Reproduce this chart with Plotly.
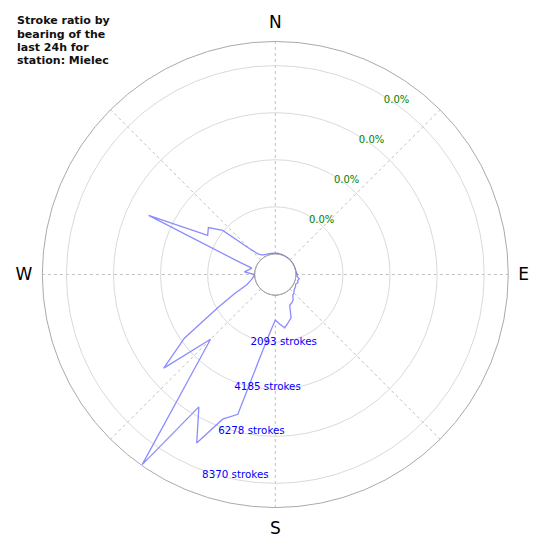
import plotly.graph_objects as go

# bearing bins (degrees, clockwise from north) and stroke counts per bin
bearings = list(range(0, 360, 5))
strokes = [
    40, 40, 30, 30, 20, 20, 15, 10, 10, 10, 5, 5,
    5, 5, 10, 10, 20, 30, 80, 60, 170, 120, 160, 90,
    130, 150, 180, 250, 300, 470, 550, 600, 1140, 1300, 1490, 1300,
    1110, 1640, 2690, 5520, 5930, 7350, 5880, 9400, 4900, 3160, 5560, 4020,
    2030, 1080, 450, 260, 130, 60, 10, 470, 290, 170, 990, 5300,
    2560, 2720, 2140, 720, 290, 150, 100, 80, 60, 50, 45, 40,
]

ring_values = [2093, 4185, 6278, 8370]
ring_labels = [f"{v} strokes" for v in ring_values]
ratio_labels = ["0.0%", "0.0%", "0.0%", "0.0%"]
compass_angles = [0, 45, 90, 135, 180, 225, 270, 315]
compass_text = ["N", "", "E", "", "S", "", "W", ""]
title_lines = ["Stroke ratio by", "bearing of the", "last 24h for", "station: Mielec"]
r_max = 9440

fig = go.Figure()

# stroke distribution, closed loop
fig.add_trace(go.Scatterpolar(
    r=strokes + strokes[:1],
    theta=bearings + bearings[:1],
    mode="lines",
    line=dict(color="#8c8cff", width=1.3),
    hoverinfo="skip",
))

# inner circle edge
fig.add_trace(go.Scatterpolar(
    r=[0] * 361,
    theta=list(range(361)),
    mode="lines",
    line=dict(color="#333333", width=0.9),
    hoverinfo="skip",
))

# ring labels (stroke counts)
label_pad = r_max * 0.024
fig.add_trace(go.Scatterpolar(
    r=[v + label_pad for v in ring_values],
    theta=[200] * len(ring_values),
    mode="text",
    text=ring_labels,
    textposition="middle right",
    textfont=dict(family="DejaVu Sans", size=10.3, color="#0000ff"),
    hoverinfo="skip",
))

# ratio labels
fig.add_trace(go.Scatterpolar(
    r=[v - label_pad * 0.8 for v in ring_values],
    theta=[32] * len(ring_values),
    mode="text",
    text=ratio_labels,
    textposition="middle right",
    textfont=dict(family="DejaVu Sans", size=10, color="#008000"),
    hoverinfo="skip",
))

# title, one annotation per line to keep the tight line spacing
annotations = []
for i, line in enumerate(title_lines):
    annotations.append(dict(
        text=f"<b>{line}</b>",
        xref="paper", yref="paper",
        x=0.0125, y=0.992 - i * 13.3 / 550,
        xanchor="left", yanchor="top",
        showarrow=False,
        font=dict(family="DejaVu Sans", size=11, color="#111111"),
    ))

fig.update_layout(
    width=550,
    height=550,
    margin=dict(l=0, r=0, t=0, b=0),
    paper_bgcolor="white",
    plot_bgcolor="white",
    showlegend=False,
    font=dict(family="DejaVu Sans", color="#000000"),
    polar=dict(
        domain=dict(x=[0.0624, 0.9096], y=[0.0918, 0.9391]),
        bgcolor="white",
        hole=0.088,
        radialaxis=dict(
            range=[0, r_max],
            tickvals=ring_values,
            showticklabels=False,
            ticks="",
            showline=False,
            gridcolor="#dadada",
            gridwidth=0.8,
        ),
        angularaxis=dict(
            rotation=90,
            direction="clockwise",
            tickvals=compass_angles,
            ticktext=compass_text,
            tickfont=dict(family="DejaVu Sans", size=17, color="#000000"),
            ticks="outside",
            ticklen=6,
            tickcolor="rgba(0,0,0,0)",
            showline=True,
            linecolor="#aaaaaa",
            linewidth=1,
            gridcolor="#c0c0c0",
            griddash="dot",
            gridwidth=0.8,
        ),
    ),
    annotations=annotations,
)

fig.write_html("out.html")
